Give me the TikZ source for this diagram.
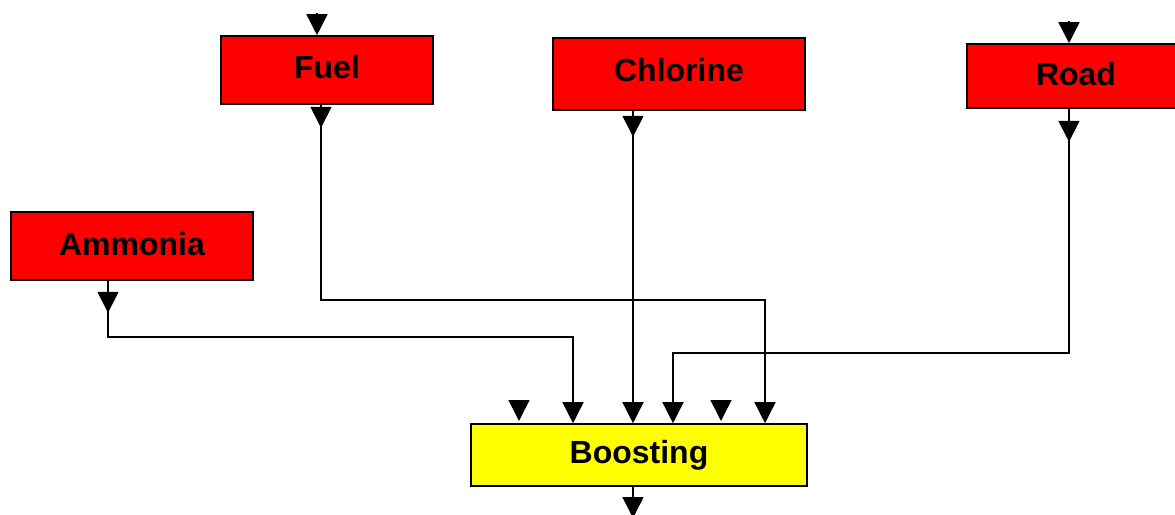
\documentclass[tikz,border=0pt]{standalone}
\usepackage{fontspec}
\setmainfont{Liberation Sans}
\usetikzlibrary{arrows.meta}
\definecolor{boxred}{RGB}{255,0,0}
\definecolor{boxyellow}{RGB}{255,255,0}
\begin{document}
\begin{tikzpicture}[x=1pt,y=-1pt,
  box/.style={draw=black,line width=1.6pt,inner sep=0pt,
    font=\fontsize{32}{36}\selectfont\bfseries},
  source/.style={box,fill=boxred},
  target/.style={box,fill=boxyellow},
  wire/.style={line width=1.5pt},
  tipped/.style={wire,-{Triangle[width=21pt,length=21pt]}},
]
\useasboundingbox (0,0) rectangle (1175,514);

% process boxes
\node[source,minimum width=212pt,minimum height=68pt] (fuel) at (327,70) {\raisebox{7pt}{Fuel}};
\node[source,minimum width=252pt,minimum height=72pt] (chlorine) at (679,74) {\raisebox{8pt}{Chlorine}};
\node[source,minimum width=218pt,minimum height=64pt] (road) at (1076,76) {\raisebox{4pt}{Road}};
\node[source,minimum width=242pt,minimum height=68pt] (ammonia) at (132,246) {\raisebox{5pt}{Ammonia}};
\node[target,minimum width=336pt,minimum height=62pt] (boost) at (639,455) {\raisebox{-3pt}{Boosting}};

% entry points on the top of Boosting
\coordinate (inA) at ([xshift=-66pt]boost.north);
\coordinate (inC) at ([xshift=-6pt]boost.north);
\coordinate (inR) at ([xshift=34pt]boost.north);
\coordinate (inF) at ([xshift=126pt]boost.north);

% free ends
\coordinate (fuelIn) at (317,13);
\coordinate (roadIn) at (1069,21);
\coordinate (spareL) at (519,400);
\coordinate (spareR) at (721,400);
\coordinate (boostOut) at (633,518);

% incoming markers
\draw[tipped] (fuelIn) -- (fuelIn |- fuel.north);
\draw[tipped] (roadIn) -- (roadIn |- road.north);
\draw[tipped] (spareL) -- ++(0,21);
\draw[tipped] (spareR) -- ++(0,21);

% outgoing markers
\draw[tipped] ([xshift=-6pt]fuel.south) -- ++(0,23);
\draw[tipped] ([xshift=-46pt]chlorine.south) -- ++(0,26);
\draw[tipped] ([xshift=-7pt]road.south) -- ++(0,33);
\draw[tipped] ([xshift=-24pt]ammonia.south) -- ++(0,32);
\draw[tipped] ([xshift=-6pt]boost.south) -- (boostOut);

% connectors into Boosting
\draw[tipped] ([xshift=-24pt]ammonia.south) -- ++(0,56) -| (inA);
\draw[tipped] ([xshift=-46pt]chlorine.south) -- (inC);
\draw[tipped] ([xshift=-7pt]road.south) -- ++(0,244) -| (inR);
\draw[tipped] ([xshift=-6pt]fuel.south) -- ++(0,195) -| (inF);
\end{tikzpicture}
\end{document}
